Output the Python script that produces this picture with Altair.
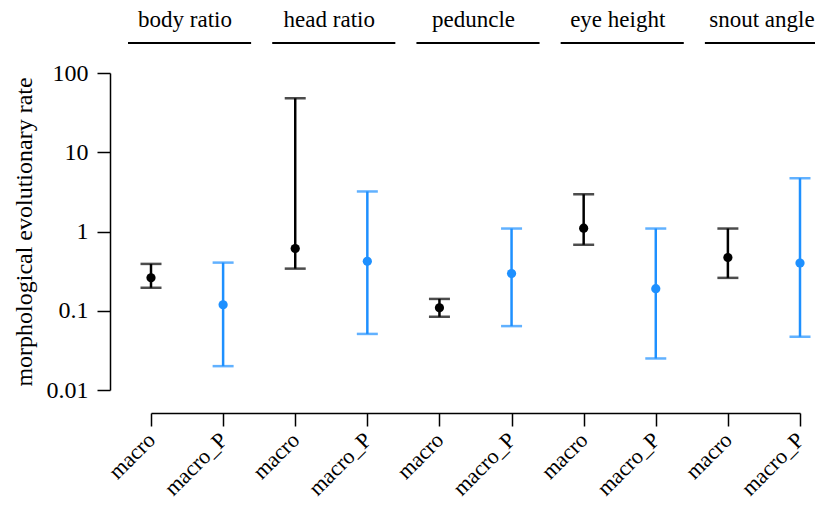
import altair as alt
import pandas as pd

traits = ["body ratio", "head ratio", "peduncle", "eye height", "snout angle"]
groups = ["macro", "macro_P"]
est_macro = [0.26, 0.61, 0.109, 1.1, 0.47]
lo_macro = [0.195, 0.34, 0.084, 0.68, 0.26]
hi_macro = [0.39, 48, 0.141, 2.95, 1.09]
est_P = [0.119, 0.42, 0.295, 0.19, 0.40]
lo_P = [0.020, 0.051, 0.064, 0.025, 0.047]
hi_P = [0.405, 3.2, 1.09, 1.09, 4.7]
y_ticks = [0.01, 0.1, 1, 10, 100]

rows = []
for i, t in enumerate(traits):
    rows.append(dict(trait=t, group=groups[0], idx=2 * i, est=est_macro[i], lo=lo_macro[i], hi=hi_macro[i]))
    rows.append(dict(trait=t, group=groups[1], idx=2 * i + 1, est=est_P[i], lo=lo_P[i], hi=hi_P[i]))
df = pd.DataFrame(rows)
hdr = pd.DataFrame([dict(trait=t, start=2 * i, end=2 * i + 1, mid=2 * i + 0.5) for i, t in enumerate(traits)])

FONT = "Liberation Serif"
FS = 24
xscale = alt.Scale(domain=[0, 2 * len(traits) - 1], nice=False, zero=False)
yscale = alt.Scale(type="log", domain=[0.01, 100], nice=False)
color = alt.Color("group:N", scale=alt.Scale(domain=groups, range=["#000000", "#1E90FF"]), legend=None)

xaxis = alt.Axis(values=list(range(10)), labelExpr="datum.value % 2 == 0 ? 'macro' : 'macro_P'",
                 grid=False, offset=23, tickSize=13, labelAngle=-45, labelAlign="right",
                 labelBaseline="middle", labelPadding=10, labelOverlap=False, title=None,
                 domainColor="black", tickColor="black", domainWidth=1.5, tickWidth=1.5,
                 labelFont=FONT, labelFontSize=22, labelColor="black")
yaxis = alt.Axis(values=y_ticks, format="~g", grid=False, offset=41, tickSize=13,
                 labelPadding=9, labelOverlap=False, title="morphological evolutionary rate",
                 titleFont=FONT, titleFontSize=FS, titleFontWeight="normal", titleColor="black",
                 titlePadding=10, labelFont=FONT, labelFontSize=FS, labelColor="black",
                 domainColor="black", tickColor="black", domainWidth=1.5, tickWidth=1.5)

base = alt.Chart(df)
bars = base.mark_rule(strokeWidth=2.5).encode(
    x=alt.X("idx:Q", scale=xscale, axis=xaxis),
    y=alt.Y("lo:Q", scale=yscale, axis=yaxis),
    y2="hi:Q",
    color=color,
)
cap_lo = base.mark_tick(orient="horizontal", size=21, thickness=2.5).encode(
    x=alt.X("idx:Q", scale=xscale), y=alt.Y("lo:Q", scale=yscale), color=color)
cap_hi = base.mark_tick(orient="horizontal", size=21, thickness=2.5).encode(
    x=alt.X("idx:Q", scale=xscale), y=alt.Y("hi:Q", scale=yscale), color=color)
pts = base.mark_point(filled=True, size=85, opacity=1).encode(
    x=alt.X("idx:Q", scale=xscale), y=alt.Y("est:Q", scale=yscale), color=color)

hbase = alt.Chart(hdr)
hrule = hbase.mark_rule(strokeWidth=2, color="black", xOffset=-23, x2Offset=28).encode(
    x=alt.X("start:Q", scale=xscale), x2="end:Q", y=alt.value(-30))
htext = hbase.mark_text(font=FONT, fontSize=23, color="black", dx=-2, baseline="alphabetic").encode(
    x=alt.X("mid:Q", scale=xscale), y=alt.value(-46), text="trait:N")

chart = alt.layer(bars, cap_lo, cap_hi, pts, hrule, htext).properties(
    width=649, height=317,
    autosize=alt.AutoSizeParams(type="none"),
    padding={"left": 143, "top": 65, "right": 15, "bottom": 113},
).configure(background="white").configure_view(stroke=None)

chart.save("out.html", embed_options={"renderer": "svg", "actions": False})
